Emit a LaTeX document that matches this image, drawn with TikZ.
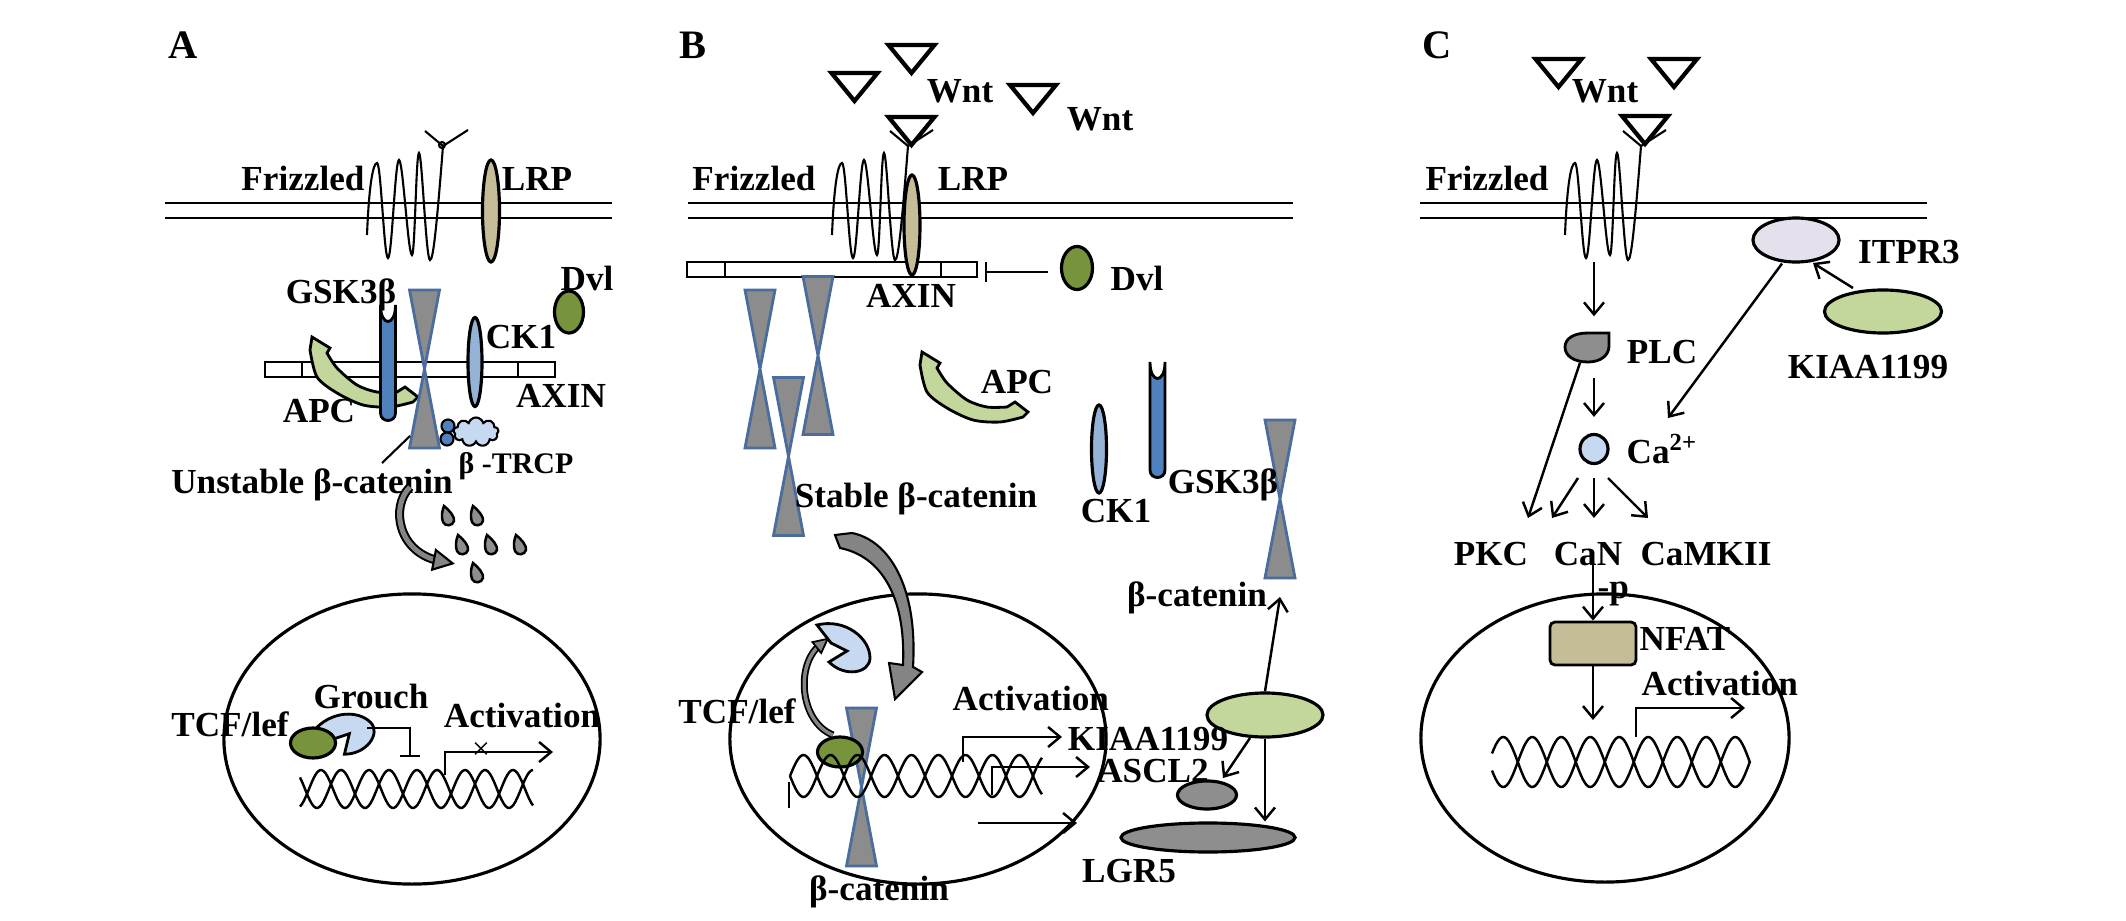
\documentclass[tikz,border=0pt]{standalone}
\usepackage{fontspec}
\setmainfont{Liberation Serif}
\usepackage{tikz}
\usetikzlibrary{shapes.geometric,shapes.symbols,arrows.meta,decorations.markings}
\definecolor{lrptan}{HTML}{C4BD97}
\definecolor{dvlgreen}{HTML}{77933C}
\definecolor{apcgreen}{HTML}{C3D69B}
\definecolor{ckblue}{HTML}{95B3D7}
\definecolor{gskblue}{HTML}{4F81BD}
\definecolor{paleblue}{HTML}{C6D9F1}
\definecolor{bcatgray}{HTML}{8C8C8C}
\definecolor{bcatedge}{HTML}{4A6D9E}
\definecolor{protgray}{HTML}{8E8E8E}
\definecolor{itprlilac}{HTML}{E6E0EC}
\definecolor{arrgray}{HTML}{848484}
\tikzset{
  lbl/.style={font=\fontsize{10}{12}\selectfont\bfseries,inner sep=0pt,anchor=base},
  lblw/.style={lbl,anchor=base west},
  panel/.style={font=\fontsize{11.5}{13}\selectfont\bfseries,inner sep=0pt,anchor=base},
  arr/.style={line width=0.7pt,-{Straight Barb[length=0.12cm,width=0.2cm]}},
  inhib/.style={line width=0.7pt,-{Bar[width=0.2cm]}},
  memb/.style={line width=0.8pt},
  helix/.style={line width=0.7pt},
  blob/.style={ellipse,draw,line width=0.9pt,inner sep=0pt},
  nucleus/.style={ellipse,draw,line width=0.9pt,inner sep=0pt,minimum width=3.76cm,minimum height=2.90cm},
  axinbar/.style={rectangle,draw,line width=0.8pt,inner sep=0pt,minimum width=2.90cm,minimum height=0.15cm},
  blockarr/.style={draw=arrgray,line width=0.05cm,preaction={draw=black,line width=0.09cm},
    postaction={decorate},decoration={markings,mark=at position 0.999 with {\draw[draw=black,fill=arrgray,line width=0.6pt] (-0.06cm,-0.10cm) -- (0.13cm,0cm) -- (-0.06cm,0.10cm) -- cycle;}}},
  blockarrsmall/.style={draw=arrgray,line width=0.035cm,preaction={draw=black,line width=0.07cm},
    postaction={decorate},decoration={markings,mark=at position 0.999 with {\draw[draw=black,fill=arrgray,line width=0.5pt] (-0.04cm,-0.07cm) -- (0.10cm,0cm) -- (-0.04cm,0.07cm) -- cycle;}}},
  coil/.pic={\draw[line width=0.6pt] (0,0) .. controls (2,-50) and (6,-72) .. (10,-72) .. controls (14,-72) and (17,23) .. (21,23) .. controls (25,23) and (28,-75) .. (32,-75) .. controls (36,-75) and (41,20) .. (45,20) .. controls (48,20) and (49,-82) .. (52,-82) .. controls (55,-82) and (59,25) .. (63,25) .. controls (66,25) and (69,0) .. (76,-89);
    \draw[line width=0.6pt] (58,-104) -- (76,-89) -- (101,-105);},
  wnt/.pic={\draw[line width=1.2pt,line join=miter] (-23,0) -- (23,0) -- (0,28) -- cycle;},
  bcat/.pic={\draw[fill=bcatgray,draw=bcatedge,line width=0.8pt] (-15,-79) -- (15,-79) -- (0,0) -- (15,79) -- (-15,79) -- (0,0) -- cycle;},
  gsk/.pic={\draw[fill=gskblue,line width=0.8pt] (-7.5,0) -- (-7.5,108) .. controls (-7.5,118) and (7.5,118) .. (7.5,108) -- (7.5,0) .. controls (7.5,22) and (-7.5,22) .. (-7.5,0) -- cycle;},
  apc/.pic={\draw[fill=apcgreen,line width=0.8pt] (0,0) -- plot[smooth] coordinates {(-2,13) (5,40) (25,56) (51,68) (78,70) (101,65)} -- (106,60) -- (93,50) -- plot[smooth] coordinates {(85,55) (65,55) (45,48) (25,31) (15,16)} -- (18,11) -- cycle;},
  drop/.pic={\draw[fill=protgray,line width=0.7pt] (-4,-10) .. controls (2,-5) and (7,1) .. (6,5) .. controls (5,10) and (-3,11) .. (-5,6) .. controls (-7,1) and (-6,-5) .. (-4,-10) -- cycle;},
  grouch/.pic={\draw[fill=paleblue,line width=0.8pt] (-26,-21) .. controls (2,-28) and (27,-8) .. (27,12) .. controls (27,27) and (2,32) .. (-14,16) -- (4,5) -- (-12,-3) -- cycle;}
}
\begin{document}
\begin{tikzpicture}[x=0.01cm,y=-0.01cm]
\useasboundingbox (0,0) rectangle (2126,921);
\node (labA) at (183,58)[panel]{A};
\draw[memb] (165,203) -- (612,203);
\draw[memb] (165,218) -- (612,218);
\node (fzA) at (303,190)[lbl]{Frizzled};
\pic at (367,235) {coil};
\draw[line width=0.6pt] (442,145) circle[radius=0.03cm];
\node (lrpA) at (491,211)[blob,fill=lrptan,minimum width=0.17cm,minimum height=1.02cm]{};
\node (lrpAt) at (537,190)[lbl]{LRP};
\node (barA) at (410,369.5)[axinbar]{};
\draw[line width=0.8pt] (302,362) -- (302,377) (518,362) -- (518,377);
\pic at (312,337) {apc};
\pic at (388,305) {gsk};
\pic at (424.5,369) {bcat};
\node (ckA) at (475,362)[blob,fill=ckblue,minimum width=0.14cm,minimum height=0.89cm]{};
\node (dvlA) at (569,312)[blob,fill=dvlgreen,minimum width=0.29cm,minimum height=0.42cm]{};
\node (dvlAt) at (587,290)[lbl]{Dvl};
\node (gskAt) at (341,303)[lbl]{GSK3β};
\node (ckAt) at (521,348)[lbl]{CK1};
\node (apcAt) at (319,422)[lbl]{APC};
\node (axinAt) at (561,407)[lbl]{AXIN};
\node (trcpA) at (476,432)[cloud,cloud puffs=9,aspect=1.5,draw,fill=paleblue,line width=0.6pt,inner sep=0pt,minimum width=0.45cm,minimum height=0.29cm]{};
\node (ubA1) at (448,426)[circle,draw,fill=gskblue,line width=0.6pt,inner sep=0pt,minimum size=0.13cm]{};
\node (ubA2) at (447,439)[circle,draw,fill=gskblue,line width=0.6pt,inner sep=0pt,minimum size=0.13cm]{};
\node (trcpAt) at (516,473)[lbl,font=\fontsize{8.5}{10}\selectfont\bfseries]{β -TRCP};
\node (unstA) at (312,493)[lbl]{Unstable β-catenin};
\coordinate (ptA1) at (382,463);
\coordinate (ptA2) at (410,436);
\draw[line width=0.6pt] (ptA1) -- (ptA2);
\coordinate (degA1) at (410,487);
\coordinate (degA2) at (440,561);
\draw[blockarr] (degA1) .. controls (390,507) and (398,553) .. (degA2);
\pic at (448,516) {drop};
\pic at (477,516) {drop};
\pic at (462,545) {drop};
\pic at (491,545) {drop};
\pic at (520,545) {drop};
\pic at (477,573) {drop};
\node (nucA) at (412,739)[nucleus]{};
\node (tcfAt) at (230,736)[lbl]{TCF/lef};
\pic[rotate=45] at (343,733) {grouch};
\node (tcfA) at (313,743)[blob,fill=dvlgreen,minimum width=0.45cm,minimum height=0.30cm]{};
\node (grAt) at (371,708)[lbl]{Grouch};
\coordinate (grA) at (367,728);
\coordinate (repA) at (410,757);
\draw[inhib] (grA) -| (repA);
\draw[helix] plot[domain=300:533,samples=120] (\x,{789-19*cos((\x-513)*7.5)});
\draw[helix] plot[domain=300:533,samples=120] (\x,{789-19*cos((\x-513)*7.5-150)});
\coordinate (actA0) at (445,775);
\coordinate (actA1) at (553,752);
\draw[arr] (actA0) |- (actA1);
\node (xA) at (481,751)[inner sep=0pt,font=\fontsize{9}{9}\selectfont]{×};
\node (actAt) at (522,727)[lbl]{Activation};
\node (labB) at (693,58)[panel]{B};
\pic at (854.5,73) {wnt};
\pic at (911.5,45) {wnt};
\pic at (911.5,117) {wnt};
\pic at (1033,85) {wnt};
\node (wntB1) at (960,103)[lbl]{Wnt};
\node (wntB2) at (1100,130)[lbl]{Wnt};
\draw[memb] (688,203) -- (1293,203);
\draw[memb] (688,218) -- (1293,218);
\node (fzB) at (754,190)[lbl]{Frizzled};
\node (barB) at (832,269.5)[axinbar]{};
\draw[line width=0.8pt] (725,262) -- (725,277) (941,262) -- (941,277);
\pic at (832,235) {coil};
\node (lrpB) at (912,225)[blob,fill=lrptan,minimum width=0.16cm,minimum height=1.0cm]{};
\node (lrpBt) at (973,190)[lbl]{LRP};
\node (axinBt) at (911,307)[lbl]{AXIN};
\node (dvlB) at (1077,268)[blob,fill=dvlgreen,minimum width=0.31cm,minimum height=0.43cm]{};
\node (dvlBt) at (1137,290)[lbl]{Dvl};
\coordinate (inhB0) at (1048,272);
\coordinate (inhB1) at (985,272);
\draw[inhib] (inhB0) -- (inhB1);
\pic at (760,369) {bcat};
\pic at (818,355.5) {bcat};
\pic at (788.5,456.5) {bcat};
\node (stabB) at (916,507)[lbl]{Stable β-catenin};
\pic at (922,352) {apc};
\node (apcBt) at (1017,393)[lbl]{APC};
\node (ckB) at (1099,449)[blob,fill=ckblue,minimum width=0.15cm,minimum height=0.88cm]{};
\node (ckBt) at (1116,522)[lbl]{CK1};
\pic at (1157.5,362) {gsk};
\pic at (1280,499) {bcat};
\node (gskBt) at (1223,493)[lbl]{GSK3β};
\node (bcatBt) at (1197,606)[lbl]{β-catenin};
\node (nucB) at (918,739)[nucleus]{};
\node (tcfBt) at (737,723)[lbl]{TCF/lef};
\pic at (843,646) {grouch};
\pic at (861.5,787) {bcat};
\node (tcfB) at (840,752)[blob,fill=dvlgreen,minimum width=0.45cm,minimum height=0.30cm]{};
\draw[helix] plot[domain=790:1042,samples=140] (\x,{776+21*sin((\x-790)*6.667)});
\draw[helix] plot[domain=790:1042,samples=140] (\x,{776-21*sin((\x-790)*6.667)});
\coordinate (tickB0) at (789,782);
\coordinate (tickB1) at (789,808);
\draw[line width=0.7pt] (tickB0) -- (tickB1);
\node (bcatB2t) at (879,900)[lbl]{β-catenin};
\coordinate (stB0) at (852,533);
\coordinate (stB1) at (895,699);
\draw[fill=arrgray,line width=0.6pt] (stB0) .. controls (888,540) and (918,585) .. (913,667) -- (922,672) -- (stB1) -- (889,663) -- (903,665) .. controls (906,595) and (880,556) .. (840,548) -- (835,535) -- cycle;
\coordinate (tcfB0) at (833,735);
\coordinate (tcfB1) at (820,645);
\draw[blockarrsmall] (tcfB0) .. controls (800,722) and (795,665) .. (tcfB1);
\coordinate (kB0) at (963,762);
\coordinate (kB1) at (1062,737);
\draw[arr] (kB0) |- (kB1);
\coordinate (aB0) at (992,795);
\coordinate (aB1) at (1090,767);
\draw[arr] (aB0) |- (aB1);
\coordinate (lB0) at (978,823);
\coordinate (lB1) at (1077,823);
\draw[arr] (lB0) -- (lB1);
\node (actBt) at (952,710)[lblw]{Activation};
\node (kiaaB) at (1265,715)[blob,fill=apcgreen,minimum width=1.16cm,minimum height=0.44cm]{};
\node (ascl) at (1207,795)[blob,fill=protgray,minimum width=0.59cm,minimum height=0.28cm]{};
\node (lgr) at (1208,837.5)[blob,fill=protgray,minimum width=1.74cm,minimum height=0.29cm]{};
\node (kiaaBt) at (1148,750)[lbl]{KIAA1199};
\node (asclt) at (1153,782)[lbl]{ASCL2};
\node (lgrt) at (1129,882)[lbl]{LGR5};
\coordinate (bcB) at (1280,597);
\draw[arr] (kiaaB.north) -- (bcB);
\coordinate (kaB0) at (1250,738);
\coordinate (kaB1) at (1223,778);
\draw[arr] (kaB0) -- (kaB1);
\draw[arr] (kiaaB.south) -- (kiaaB.south |- lgr.north);
\node (labC) at (1437,58)[panel]{C};
\pic at (1558.5,59) {wnt};
\pic at (1674,59) {wnt};
\pic at (1645,116) {wnt};
\node (wntC) at (1605,102)[lbl]{Wnt};
\draw[memb] (1420,203) -- (1927,203);
\draw[memb] (1420,218) -- (1927,218);
\node (fzC) at (1487,190)[lbl]{Frizzled};
\pic at (1565,235) {coil};
\node (itpr) at (1796,240)[blob,fill=itprlilac,minimum width=0.86cm,minimum height=0.44cm]{};
\node (itprt) at (1909,263)[lbl]{ITPR3};
\node (kiaaC) at (1883,311.5)[blob,fill=apcgreen,minimum width=1.17cm,minimum height=0.43cm]{};
\node (kiaaCt) at (1868,378)[lbl]{KIAA1199};
\draw[fill=protgray,line width=0.8pt] (1609,333) -- (1588,333) .. controls (1573,333) and (1565,339) .. (1565,347) .. controls (1565,356) and (1574,362) .. (1588,362) .. controls (1601,362) and (1609,355) .. (1609,346) -- cycle;
\node (plc) at (1587,347.5)[inner sep=0pt,minimum width=0.44cm,minimum height=0.29cm]{};
\node (plct) at (1662,363)[lbl]{PLC};
\node (caC) at (1594,449)[blob,fill=paleblue,minimum width=0.28cm,minimum height=0.29cm]{};
\node (cat) at (1626,463)[lblw]{Ca\textsuperscript{2+}};
\node (pkc) at (1491,565)[lbl]{PKC};
\node (can) at (1588,565)[lbl]{CaN};
\node (camk) at (1706,565)[lbl]{CaMKII};
\node (nucC) at (1605,738)[nucleus,minimum width=3.68cm,minimum height=2.88cm]{};
\node (pt) at (1597,598)[lblw]{-p};
\node (nfat) at (1593,643.5)[rectangle,rounded corners=0.05cm,draw,fill=lrptan,line width=0.8pt,inner sep=0pt,minimum width=0.86cm,minimum height=0.43cm]{};
\node (nfatt) at (1639,650)[lblw]{NFAT};
\draw[helix] plot[domain=1492:1750,samples=140] (\x,{762+25*sin((\x-1492)*6.207+200)});
\draw[helix] plot[domain=1492:1750,samples=140] (\x,{762-25*sin((\x-1492)*6.207+200)});
\node (actCt) at (1641,695)[lblw]{Activation};
\coordinate (fzCo) at (1594,262);
\draw[arr,shorten >=0.16cm] (fzCo) -- (plc.north -| fzCo);
\draw[arr,shorten <=0.15cm,shorten >=0.16cm] (plc.south -| caC) -- (caC.north);
\coordinate (pkcIn) at (1528,518);
\draw[arr] ([xshift=-0.07cm]plc.south) -- (pkcIn);
\coordinate (caIn) at (1668,418);
\draw[arr] ([xshift=-0.14cm]itpr.south) -- (caIn);
\coordinate (kiC0) at (1853,288);
\coordinate (kiC1) at (1813,263);
\draw[arr] (kiC0) -- (kiC1);
\coordinate (caS1) at (1578,478);
\coordinate (caE1) at (1552,518);
\coordinate (caS2) at (1594,478);
\coordinate (caE2) at (1594,518);
\coordinate (caS3) at (1608,478);
\coordinate (caE3) at (1648,518);
\draw[arr] (caS1) -- (caE1);
\draw[arr] (caS2) -- (caE2);
\draw[arr] (caS3) -- (caE3);
\coordinate (canOut) at (1593,555);
\draw[arr] (canOut) -- (nfat.north);
\coordinate (dnaC) at (1593,720);
\draw[arr] (nfat.south) -- (dnaC);
\coordinate (actC0) at (1636,737);
\coordinate (actC1) at (1745,708);
\draw[arr] (actC0) |- (actC1);
\end{tikzpicture}
\end{document}
